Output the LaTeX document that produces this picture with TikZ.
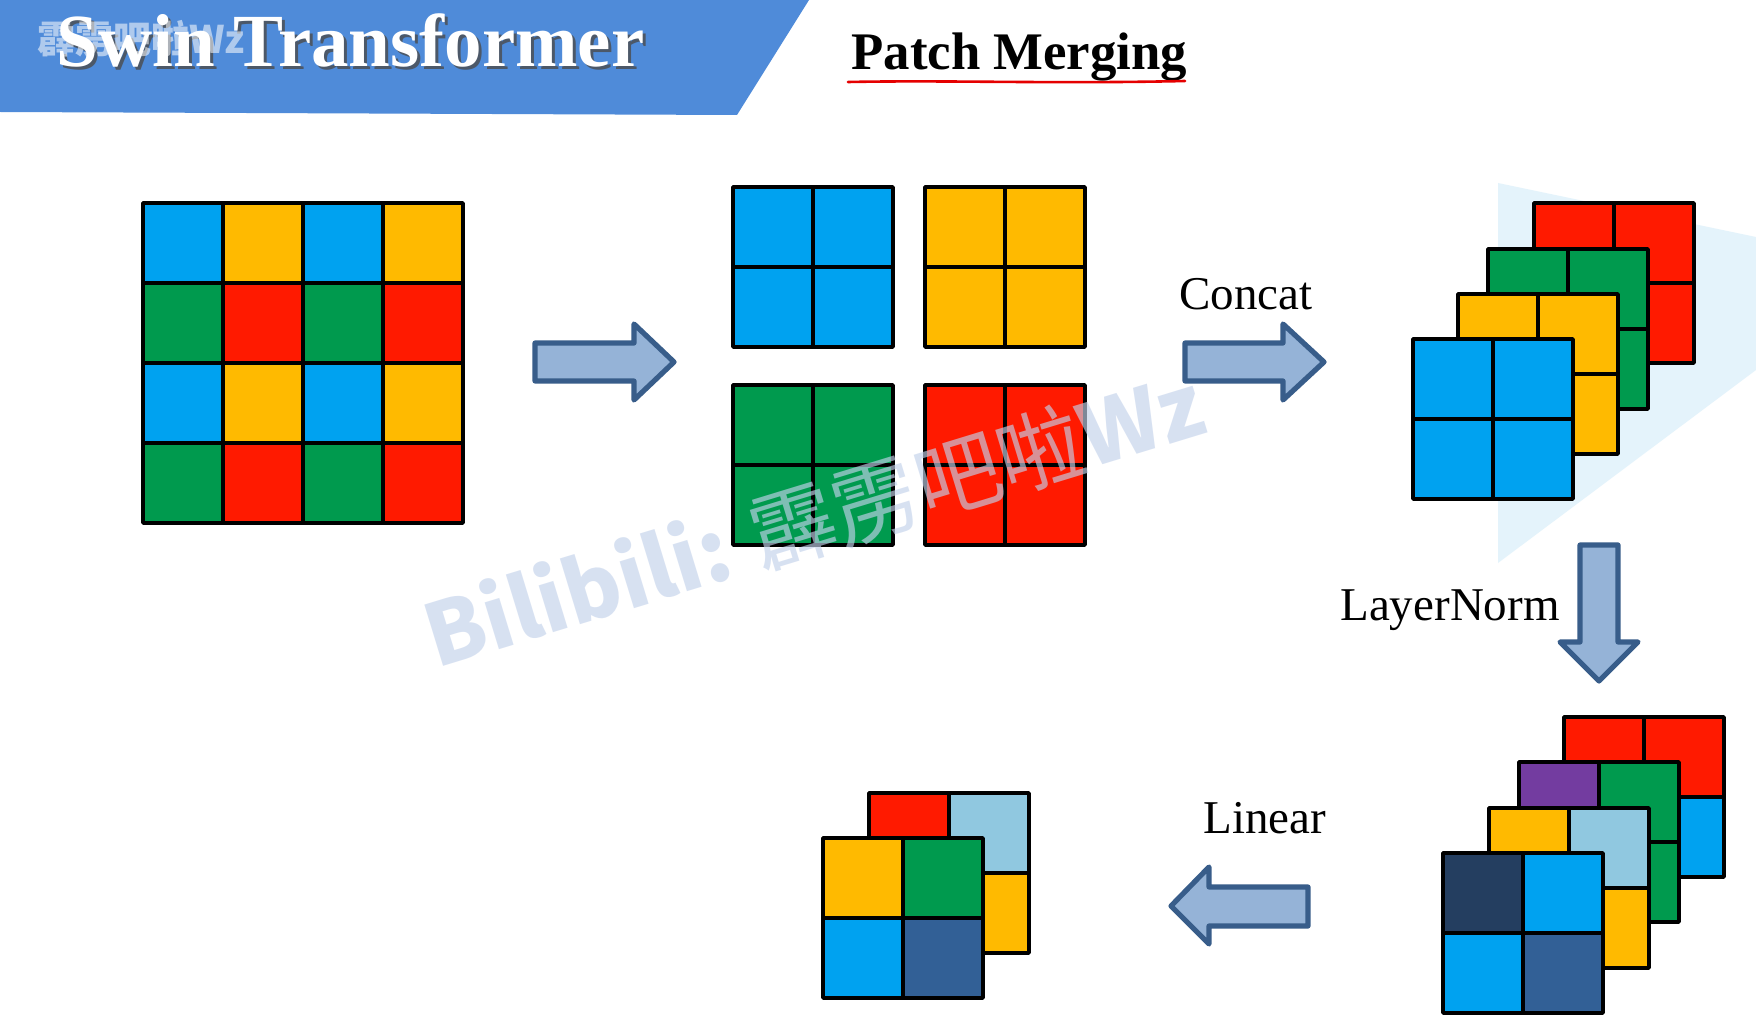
\documentclass[tikz,border=0pt]{standalone}
\usepackage{fontspec}
\setmainfont{Liberation Serif}
\newfontfamily\cjkfont{Noto Sans CJK SC}
\definecolor{cBlue}{RGB}{0,162,240}
\definecolor{cYellow}{RGB}{255,186,0}
\definecolor{cGreen}{RGB}{0,154,78}
\definecolor{cRed}{RGB}{255,26,0}
\definecolor{cPurple}{RGB}{115,60,160}
\definecolor{cLight}{RGB}{144,200,224}
\definecolor{cNavy}{RGB}{36,62,96}
\definecolor{cSteel}{RGB}{50,96,150}
\definecolor{bannerBlue}{RGB}{79,139,217}
\definecolor{arrowFill}{RGB}{149,179,215}
\definecolor{arrowLine}{RGB}{56,93,138}
\definecolor{playTri}{RGB}{228,243,251}
\definecolor{wmark}{RGB}{195,210,235}
\tikzset{
  gridline/.style={draw=black,line width=1.8pt,line join=round},
  blockarrow/.style={fill=arrowFill,draw=arrowLine,line width=2.6pt,line join=round},
  lbl/.style={inner sep=0pt,font=\fontsize{23.5pt}{26pt}\selectfont},
}
\newcommand{\quadblk}[6]{%
  \fill[#3] (#1,#2) rectangle ++(80,80);
  \fill[#4] (#1+80,#2) rectangle ++(80,80);
  \fill[#5] (#1,#2+80) rectangle ++(80,80);
  \fill[#6] (#1+80,#2+80) rectangle ++(80,80);
  \draw[gridline] (#1,#2) rectangle ++(160,160);
  \draw[gridline] (#1+80,#2) -- ++(0,160);
  \draw[gridline] (#1,#2+80) -- ++(160,0);
}
\begin{document}
\begin{tikzpicture}[x=0.5pt,y=-0.5pt]
\useasboundingbox (0,0) rectangle (1756,1027);
\fill[white] (0,0) rectangle (1756,1027);
% banner
\fill[bannerBlue] (0,0) -- (809,0) -- (737,115) -- (0,112) -- cycle;
\node[anchor=base west,inner sep=0pt,text=black!70,opacity=0.8,font=\fontsize{37.5pt}{40pt}\selectfont\bfseries] (titleshadow) at (59,70) {Swin Transformer};
\node[anchor=base west,inner sep=0pt,text=white,font=\fontsize{37.5pt}{40pt}\selectfont\bfseries] (title) at (56,67) {Swin Transformer};
\node[anchor=base west,inner sep=0pt,text=white,opacity=0.55,font=\cjkfont\fontsize{19pt}{20pt}\selectfont\bfseries] (wmsmall) at (37,54) {霹雳吧啦Wz};
% subtitle
\node[anchor=base west,inner sep=0pt,font=\fontsize{26.4pt}{29pt}\selectfont\bfseries] (subtitle) at (851,70) {Patch Merging};
\draw[red!90!black,line width=1.3pt,line cap=round] (848,82) .. controls (950,80) and (1050,84) .. (1185,81);
% play overlay
\fill[playTri] (1498,183) -- (1756,237) -- (1756,370) -- (1498,563) -- cycle;
% left 4x4 grid
\quadblk{143}{203}{cBlue}{cYellow}{cGreen}{cRed}
\quadblk{303}{203}{cBlue}{cYellow}{cGreen}{cRed}
\quadblk{143}{363}{cBlue}{cYellow}{cGreen}{cRed}
\quadblk{303}{363}{cBlue}{cYellow}{cGreen}{cRed}
% arrow 1
\draw[blockarrow] (535,343) -- (634,343) -- (634,324) -- (674,362) -- (634,400) -- (634,381) -- (535,381) -- cycle;
% four split blocks
\quadblk{733}{187}{cBlue}{cBlue}{cBlue}{cBlue}
\quadblk{925}{187}{cYellow}{cYellow}{cYellow}{cYellow}
\quadblk{733}{385}{cGreen}{cGreen}{cGreen}{cGreen}
\quadblk{925}{385}{cRed}{cRed}{cRed}{cRed}
% concat
\node[lbl,anchor=base] (concat) at (1246,309) {Concat};
\draw[blockarrow] (1185,343) -- (1283,343) -- (1283,324) -- (1324,362) -- (1283,400) -- (1283,381) -- (1185,381) -- cycle;
% concat stack
\quadblk{1534}{203}{cRed}{cRed}{cRed}{cRed}
\quadblk{1488}{249}{cGreen}{cGreen}{cGreen}{cGreen}
\quadblk{1458}{294}{cYellow}{cYellow}{cYellow}{cYellow}
\quadblk{1413}{339}{cBlue}{cBlue}{cBlue}{cBlue}
% layernorm
\node[lbl,anchor=base] (lnorm) at (1450,620) {LayerNorm};
\draw[blockarrow] (1580,545) -- (1618,545) -- (1618,642) -- (1638,642) -- (1599,681) -- (1560,642) -- (1580,642) -- cycle;
% normalized stack
\quadblk{1564}{717}{cRed}{cRed}{cBlue}{cBlue}
\quadblk{1519}{762}{cPurple}{cGreen}{cGreen}{cGreen}
\quadblk{1489}{808}{cYellow}{cLight}{cYellow}{cYellow}
\quadblk{1443}{853}{cNavy}{cBlue}{cBlue}{cSteel}
% linear
\node[lbl,anchor=base] (linear) at (1265,833) {Linear};
\draw[blockarrow] (1308,887) -- (1209,887) -- (1209,867) -- (1171,906) -- (1209,944) -- (1209,926) -- (1308,926) -- cycle;
% output stack
\quadblk{869}{793}{cRed}{cLight}{cYellow}{cYellow}
\quadblk{823}{838}{cYellow}{cGreen}{cBlue}{cSteel}
% watermark
\node[rotate=17,inner sep=0pt,text=wmark,opacity=0.65,font=\cjkfont\fontsize{43pt}{47pt}\selectfont] (wmbig) at (814,519) {{\bfseries Bilibili:} 霹雳吧啦{\bfseries Wz}};
\end{tikzpicture}
\end{document}
